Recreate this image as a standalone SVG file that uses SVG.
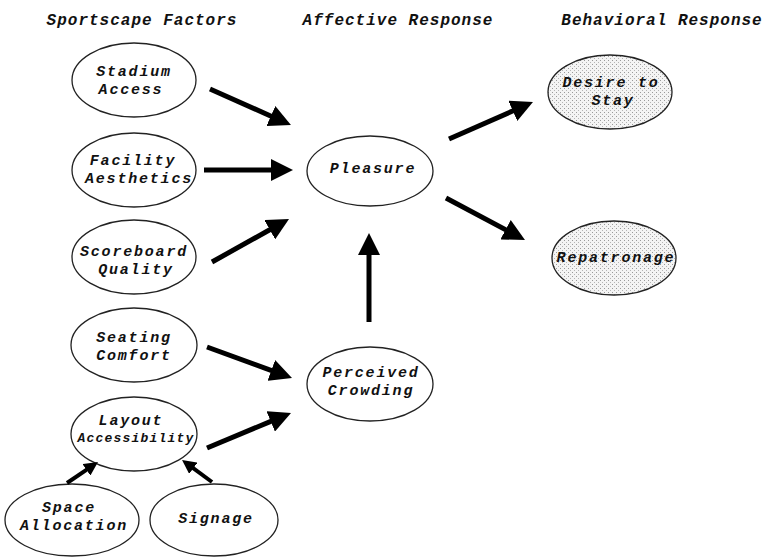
<svg xmlns="http://www.w3.org/2000/svg" width="769" height="557" viewBox="0 0 769 557">
<style>
text{font-family:"Liberation Mono","DejaVu Sans Mono",monospace;font-weight:bold;font-style:italic;font-size:15px;letter-spacing:1.8px;fill:#111;text-anchor:middle}
text.h{font-size:16px;letter-spacing:1px}
text.sm{font-size:13px;letter-spacing:1.2px}
.node ellipse{fill:#fff;stroke:#222;stroke-width:1.3}
.node.dot ellipse{fill:url(#stip)}
.conn line{stroke:#000;stroke-width:5}
.conn line.sm{stroke-width:4}
</style>
<defs>
<pattern id="stip" width="4" height="4" patternUnits="userSpaceOnUse">
<rect width="4" height="4" fill="#f4f4f4"/>
<rect x="0" y="0" width="1" height="1" fill="#9a9a9a"/>
<rect x="2" y="2" width="1" height="1" fill="#b5b5b5"/>
</pattern>
<marker id="ah" markerUnits="userSpaceOnUse" markerWidth="22" markerHeight="22" refX="4" refY="11" orient="auto">
<path d="M0,0 L22,11 L0,22 Z" fill="#000"/>
</marker>
<marker id="ahs" markerUnits="userSpaceOnUse" markerWidth="14" markerHeight="14" refX="4" refY="7" orient="auto">
<path d="M0,0 L14,7 L0,14 Z" fill="#000"/>
</marker>
</defs>
<rect width="769" height="557" fill="#fff"/>
<g id="headers">
<text class="h" x="142" y="25">Sportscape Factors</text>
<text class="h" x="398" y="25">Affective Response</text>
<text class="h" x="662" y="25">Behavioral Response</text>
</g>
<g id="stadium" class="node"><ellipse cx="134" cy="80" rx="62" ry="37"/><text x="134" y="76">Stadium</text><text x="131" y="93.5">Access</text></g>
<g id="facility" class="node"><ellipse cx="134" cy="170" rx="62" ry="37"/><text x="133" y="165">Facility</text><text x="139" y="182.5">Aesthetics</text></g>
<g id="scoreboard" class="node"><ellipse cx="134" cy="257" rx="62" ry="37"/><text x="134" y="256">Scoreboard</text><text x="136" y="273.5">Quality</text></g>
<g id="seating" class="node"><ellipse cx="134" cy="345" rx="63" ry="37"/><text x="134" y="342">Seating</text><text x="134" y="359.5">Comfort</text></g>
<g id="layout" class="node"><ellipse cx="134" cy="434" rx="63" ry="37"/><text x="131" y="425">Layout</text><text class="sm" x="136" y="442">Accessibility</text></g>
<g id="space" class="node"><ellipse cx="72" cy="520" rx="67" ry="36"/><text x="69" y="512">Space</text><text x="74" y="529.5">Allocation</text></g>
<g id="signage" class="node"><ellipse cx="214" cy="520" rx="64" ry="36"/><text x="216" y="523">Signage</text></g>
<g id="pleasure" class="node"><ellipse cx="370" cy="171" rx="63" ry="35"/><text x="373" y="173">Pleasure</text></g>
<g id="crowding" class="node"><ellipse cx="370" cy="384" rx="63" ry="37"/><text x="371" y="377">Perceived</text><text x="371" y="394.5">Crowding</text></g>
<g id="desire" class="node dot"><ellipse cx="610" cy="92" rx="62" ry="37"/><text x="611" y="87">Desire to</text><text x="613" y="104.5">Stay</text></g>
<g id="repatronage" class="node dot"><ellipse cx="614" cy="258" rx="62" ry="37"/><text x="616" y="262">Repatronage</text></g>
<g id="connectors" class="conn">
<line x1="210" y1="89" x2="274.5" y2="117.7" marker-end="url(#ah)"/>
<line x1="204" y1="170" x2="275" y2="170" marker-end="url(#ah)"/>
<line x1="212" y1="262" x2="273.3" y2="227.8" marker-end="url(#ah)"/>
<line x1="207" y1="347" x2="275.1" y2="371.8" marker-end="url(#ah)"/>
<line x1="207" y1="448" x2="274.4" y2="419.9" marker-end="url(#ah)"/>
<line class="sm" x1="67" y1="483" x2="89.7" y2="467.6" marker-end="url(#ahs)"/>
<line class="sm" x1="212" y1="482" x2="190.1" y2="465.9" marker-end="url(#ahs)"/>
<line x1="369" y1="322" x2="369" y2="251" marker-end="url(#ah)"/>
<line x1="449" y1="139" x2="516.5" y2="109.3" marker-end="url(#ah)"/>
<line x1="446" y1="198" x2="509.1" y2="231.6" marker-end="url(#ah)"/>
</g>
</svg>
